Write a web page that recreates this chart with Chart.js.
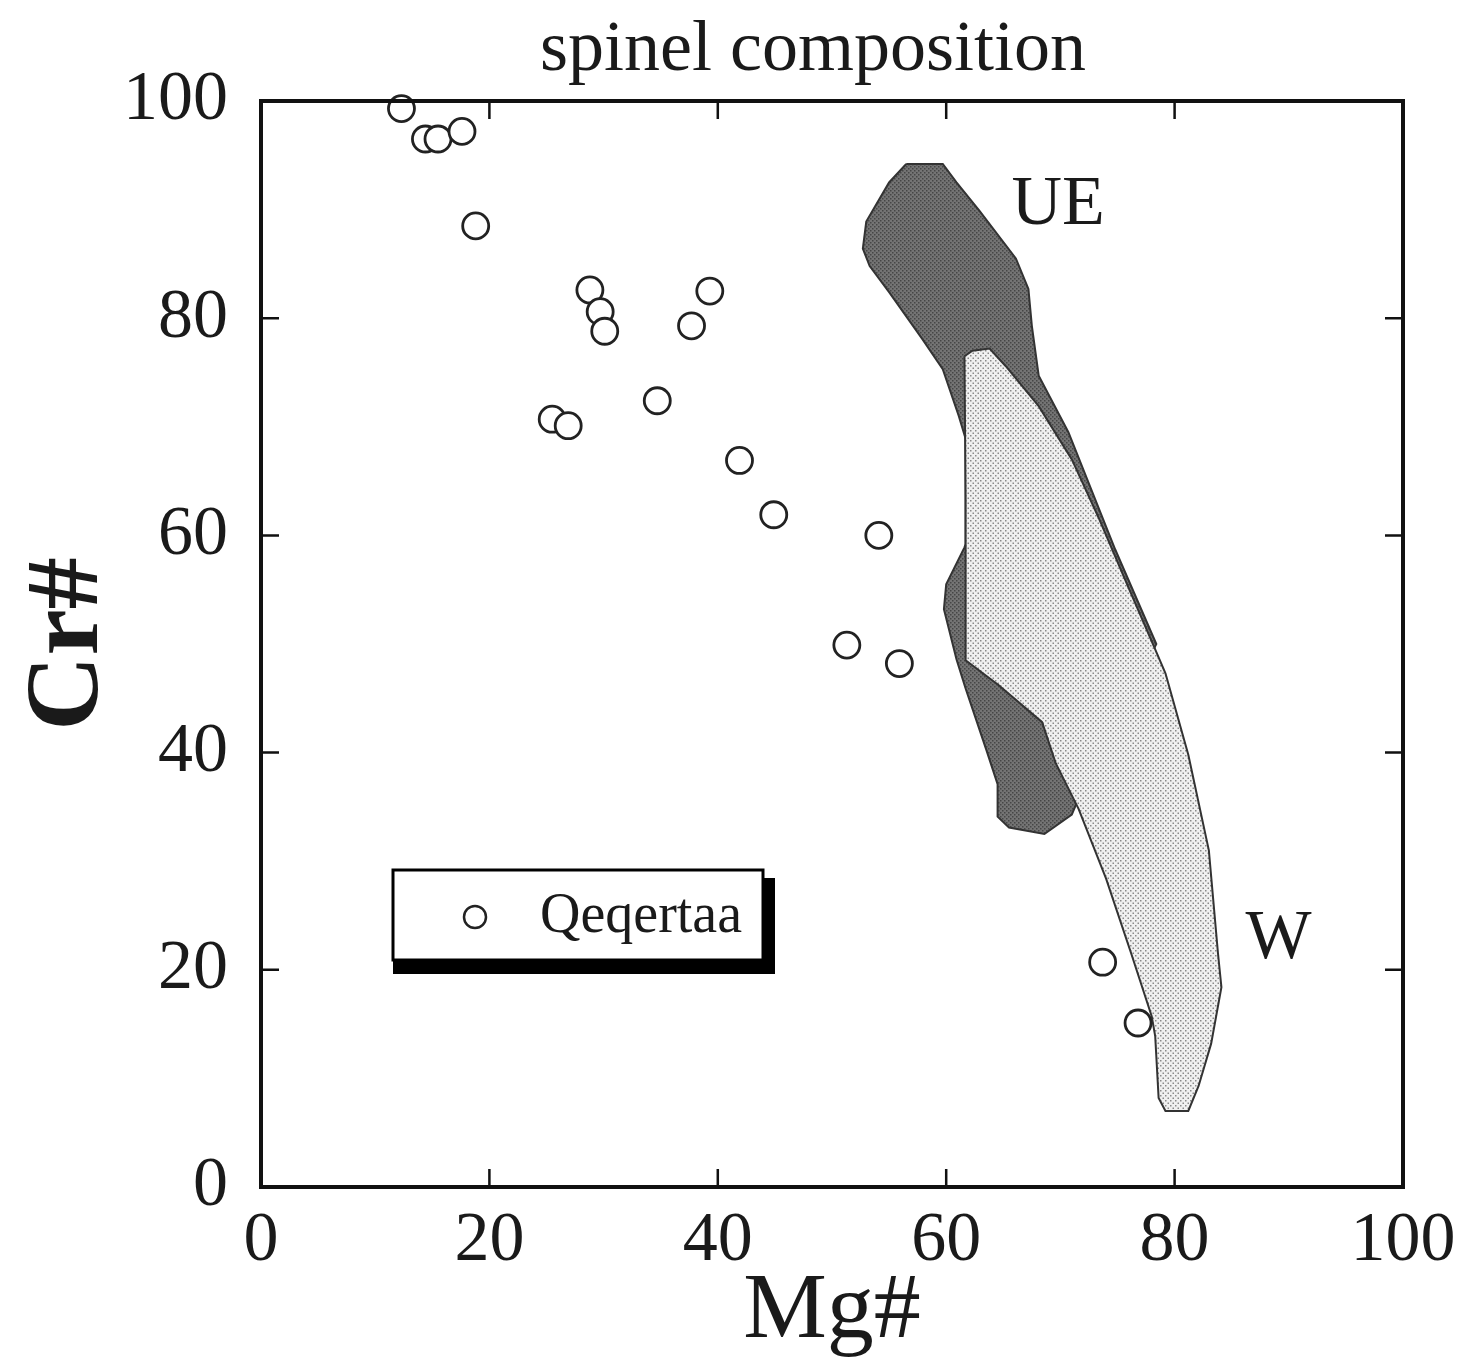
<!DOCTYPE html>
<html>
<head>
<meta charset="utf-8">
<script src="https://cdn.jsdelivr.net/npm/chart.js@4.4.1/dist/chart.umd.min.js"></script>
<style>
  html, body { margin: 0; padding: 0; background: #fff; }
</style>
</head>
<body>
<canvas id="spinelChart" width="1465" height="1369"></canvas>
<script>
// Qeqertaa spinel analyses (Mg#, Cr#)
const qeqMg = [12.3, 14.4, 15.5, 17.6, 18.8, 28.8, 29.7, 30.1, 39.3, 37.7, 25.5, 26.9, 34.7, 41.9, 44.9, 54.1, 51.3, 55.9, 73.7, 76.8];
const qeqCr = [99.3, 96.5, 96.5, 97.2, 88.5, 82.6, 80.6, 78.8, 82.5, 79.3, 70.7, 70.1, 72.4, 66.9, 61.9, 60.0, 49.9, 48.2, 20.7, 15.1];

// UE field outline
const ueMg = [56.5, 59.7, 60.9, 62.9, 66.1, 67.2, 67.5, 68.1, 70.7, 74.8, 78.4, 71.4, 71.0, 68.6, 65.5, 64.5, 64.5, 63.5, 61.7, 60.9, 59.8, 60.0, 61.6, 61.7, 61.7, 61.1, 59.7, 57.9, 55.0, 53.3, 52.7, 53.0, 55.0, 56.5];
const ueCr = [94.2, 94.2, 92.5, 89.9, 85.5, 82.7, 79.3, 74.7, 69.5, 58.7, 50.0, 35.3, 34.3, 32.5, 33.1, 34.1, 37.1, 40.3, 45.9, 48.6, 53.2, 55.5, 58.9, 59.2, 68.9, 71.0, 75.3, 78.1, 82.4, 84.8, 86.4, 88.9, 92.5, 94.2];

// W field outline
const wMg = [61.6, 62.3, 63.8, 65.2, 68.1, 71.0, 73.4, 76.0, 78.3, 79.2, 81.2, 83.0, 83.8, 84.1, 83.2, 82.1, 81.2, 79.2, 78.6, 78.3, 78.0, 76.2, 74.0, 71.6, 69.6, 68.4, 64.6, 61.7, 61.7, 61.6];
const wCr = [76.5, 77.0, 77.2, 75.6, 71.9, 67.0, 61.5, 55.1, 49.5, 47.3, 39.8, 31.0, 21.5, 18.4, 13.2, 9.3, 7.0, 7.0, 8.2, 13.9, 15.7, 21.5, 28.4, 34.8, 39.0, 42.8, 46.2, 48.5, 63.4, 76.5];

const tickValues = [0, 20, 40, 60, 80, 100];
const textColor = '#1a1a1a';
const serif = 'Liberation Serif';

function toPoints(xs, ys) {
    return xs.map((v, i) => ({ x: v, y: ys[i] }));
}

// dotted fill patterns
function dotPattern(bg, dot, step) {
    const c = document.createElement('canvas');
    c.width = step; c.height = step;
    const g = c.getContext('2d');
    g.fillStyle = bg;
    g.fillRect(0, 0, step, step);
    g.fillStyle = dot;
    g.fillRect(0, 0, 1.5, 1.5);
    g.fillRect(step / 2, step / 2, 1.5, 1.5);
    return g.createPattern(c, 'repeat');
}
const ctx0 = document.getElementById('spinelChart').getContext('2d');
const uePattern = dotPattern('#747474', '#464646', 4);
const wPattern = dotPattern('#f0f0f0', '#8a8a8a', 5);

// frame, inner ticks, field labels, legend and title
const decorPlugin = {
    id: 'decor',
    afterDatasetsDraw(chart) {
        const { ctx, chartArea: { left, right, top, bottom }, scales: { x, y } } = chart;
        ctx.save();
        ctx.strokeStyle = '#111';
        ctx.lineWidth = 2.5;
        tickValues.forEach(v => {
            const px = x.getPixelForValue(v);
            const py = y.getPixelForValue(v);
            ctx.beginPath();
            ctx.moveTo(px, bottom); ctx.lineTo(px, bottom - 18);
            ctx.moveTo(px, top); ctx.lineTo(px, top + 18);
            ctx.moveTo(left, py); ctx.lineTo(left + 18, py);
            ctx.moveTo(right, py); ctx.lineTo(right - 18, py);
            ctx.stroke();
        });
        ctx.lineWidth = 4;
        ctx.strokeRect(left, top, right - left, bottom - top);

        // field labels
        ctx.fillStyle = textColor;
        ctx.font = `70px "${serif}"`;
        ctx.textAlign = 'center';
        ctx.textBaseline = 'middle';
        ctx.fillText('UE', x.getPixelForValue(69.8), y.getPixelForValue(90.4));
        ctx.fillText('W', x.getPixelForValue(89.1), y.getPixelForValue(22.8));

        // legend box with shadow
        const bx = left + 132, by = top + 769, bw = 370, bh = 90;
        ctx.fillStyle = '#000';
        ctx.fillRect(bx, by + 8, bw + 12, bh + 6);
        ctx.fillStyle = '#fff';
        ctx.fillRect(bx, by, bw, bh);
        ctx.lineWidth = 3;
        ctx.strokeStyle = '#000';
        ctx.strokeRect(bx, by, bw, bh);
        const ds = chart.data.datasets[0];
        ctx.beginPath();
        ctx.arc(bx + 82, by + 47, 11, 0, Math.PI * 2);
        ctx.lineWidth = 2.5;
        ctx.strokeStyle = '#222';
        ctx.stroke();
        ctx.fillStyle = textColor;
        ctx.font = `56px "${serif}"`;
        ctx.textAlign = 'left';
        ctx.textBaseline = 'alphabetic';
        ctx.fillText(ds.label, bx + 147, by + 62);

        // title
        ctx.font = `72px "${serif}"`;
        ctx.textAlign = 'center';
        ctx.fillText('spinel composition', (left + right) / 2 - 19, top - 31);
        ctx.restore();
    }
};

new Chart(ctx0, {
    type: 'scatter',
    data: {
        datasets: [{
            label: 'Qeqertaa',
            data: toPoints(qeqMg, qeqCr),
            pointStyle: 'circle',
            pointRadius: 13,
            borderWidth: 2.8,
            borderColor: '#222',
            backgroundColor: '#fff',
            clip: false,
            order: 0
        }, {
            label: 'W',
            data: toPoints(wMg, wCr),
            showLine: true,
            fill: 'shape',
            tension: 0,
            pointRadius: 0,
            borderWidth: 2,
            borderColor: '#333',
            backgroundColor: wPattern,
            order: 1
        }, {
            label: 'UE',
            data: toPoints(ueMg, ueCr),
            showLine: true,
            fill: 'shape',
            tension: 0,
            pointRadius: 0,
            borderWidth: 2,
            borderColor: '#333',
            backgroundColor: uePattern,
            order: 2
        }]
    },
    options: {
        responsive: false,
        animation: false,
        layout: { padding: { top: 101, right: 62, left: 0, bottom: 0 } },
        plugins: {
            legend: { display: false },
            tooltip: { enabled: false },
            title: { display: false }
        },
        scales: {
            x: {
                type: 'linear',
                min: 0,
                max: 100,
                afterFit(s) { s.height = 182; s.paddingLeft = 0; s.paddingRight = 0; },
                grid: { display: false, drawTicks: false },
                border: { display: false },
                ticks: { stepSize: 20, padding: 13, color: textColor, font: { family: serif, size: 70 } },
                title: { display: true, text: 'Mg#', color: textColor, font: { family: serif, size: 94 }, padding: { top: 0, bottom: 0 } }
            },
            y: {
                type: 'linear',
                min: 0,
                max: 100,
                afterFit(s) { s.width = 261; s.paddingTop = 0; s.paddingBottom = 0; },
                grid: { display: false, drawTicks: false },
                border: { display: false },
                ticks: { stepSize: 20, padding: 33, color: textColor, font: { family: serif, size: 70 } },
                title: { display: true, text: 'Cr#', color: textColor, font: { family: serif, size: 104, weight: 'bold' }, padding: { top: 8, bottom: 0 } }
            }
        }
    },
    plugins: [decorPlugin]
});
</script>
</body>
</html>
